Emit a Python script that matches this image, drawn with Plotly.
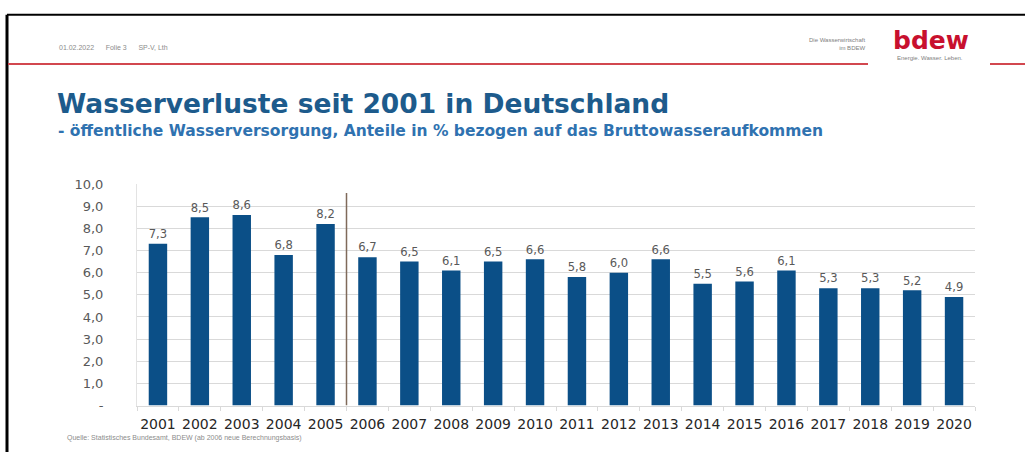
import plotly.graph_objects as go

# ---- data ----
years = [str(y) for y in range(2001, 2021)]
losses = [7.3, 8.5, 8.6, 6.8, 8.2, 6.7, 6.5, 6.1, 6.5, 6.6,
          5.8, 6.0, 6.6, 5.5, 5.6, 6.1, 5.3, 5.3, 5.2, 4.9]
y_tickvals = list(range(0, 11))
y_ticktext = ["-"] + [f"{v},0" for v in range(1, 11)]
labels = [f"{v:.1f}".replace(".", ",") for v in losses]

title = "Wasserverluste seit 2001 in Deutschland"
subtitle = "- öffentliche Wasserversorgung, Anteile in % bezogen auf das Bruttowasseraufkommen"
source = "Quelle: Statistisches Bundesamt, BDEW (ab 2006 neue Berechnungsbasis)"
header = "01.02.2022      Folie 3      SP-V, Lth"

W, H = 1025, 460
def px(x): return x / W
def py(y): return 1 - y / H

fig = go.Figure()
fig.add_trace(go.Bar(
    x=years, y=losses, text=labels, textposition="outside",
    textfont=dict(family="DejaVu Sans", size=13, color="#595959"),
    marker=dict(color="#0b4f87", line=dict(width=0)),
    width=0.44, cliponaxis=False, hoverinfo="skip",
))

fig.update_layout(
    width=W, height=H, margin=dict(l=0, r=0, t=0, b=0),
    paper_bgcolor="white", plot_bgcolor="white", showlegend=False,
    xaxis=dict(domain=[px(137), px(975)], type="category", tickangle=0,
               tickfont=dict(family="DejaVu Sans", size=14, color="#262626"),
               showgrid=False, showline=True, linecolor="#d9d9d9", linewidth=1,
               ticks="outside", tickson="boundaries", ticklen=4, tickcolor="#d9d9d9",
               ticklabelstandoff=6, fixedrange=True),
    yaxis=dict(domain=[py(412), py(183)], range=[0, 10],
               tickvals=y_tickvals, ticktext=y_ticktext,
               tickfont=dict(family="DejaVu Sans", size=13, color="#595959"),
               showgrid=True, gridcolor="#d9d9d9", gridwidth=1,
               zeroline=False, showline=True, linecolor="#e3e3e3",
               ticks="", ticklabelstandoff=30, fixedrange=True),
)

shapes = [
    # slide border (top and left)
    dict(type="line", xref="paper", yref="paper", x0=px(7), x1=1, y0=py(8), y1=py(8),
         line=dict(color="black", width=2)),
    dict(type="line", xref="paper", yref="paper", x0=px(7), x1=px(7), y0=0, y1=py(8),
         line=dict(color="black", width=3)),
    # red header line
    dict(type="line", xref="paper", yref="paper", x0=px(8), x1=px(868), y0=py(59), y1=py(59),
         line=dict(color="#d2474f", width=2)),
    dict(type="line", xref="paper", yref="paper", x0=px(990), x1=1, y0=py(59), y1=py(59),
         line=dict(color="#d2474f", width=2)),
    # separator between 2005 and 2006
    dict(type="line", xref="x", yref="y", x0=4.5, x1=4.5, y0=0, y1=9.6,
         line=dict(color="#7f6a5a", width=1.5)),
]
fig.update_layout(shapes=shapes)

ann = [
    dict(text=title, x=px(55), y=py(100), xanchor="left", yanchor="middle",
         font=dict(family="DejaVu Sans", size=26.5, color="#1d5b8c", weight="bold")),
    dict(text=subtitle, x=px(56), y=py(128), xanchor="left", yanchor="middle",
         font=dict(family="DejaVu Sans", size=15.5, color="#2f72b0", weight="bold")),
    dict(text=header, x=px(57), y=py(42), xanchor="left", yanchor="middle",
         font=dict(family="Liberation Sans", size=7, color="#8c8c8c")),
    dict(text="bdew", x=px(931), y=py(35), xanchor="center", yanchor="middle",
         font=dict(family="DejaVu Sans", size=25, color="#c8102e", weight="bold")),
    dict(text="Energie. Wasser. Leben.", x=px(930), y=py(53), xanchor="center", yanchor="middle",
         font=dict(family="Liberation Sans", size=6, color="#808080")),
    dict(text="Die Wasserwirtschaft<br>im BDEW", x=px(867), y=py(38), xanchor="right",
         yanchor="middle", align="right",
         font=dict(family="Liberation Sans", size=6, color="#808080")),
    dict(text=source, x=px(65), y=py(446), xanchor="left", yanchor="middle",
         font=dict(family="Liberation Sans", size=7, color="#8c8c8c")),
]
for a in ann:
    a.update(xref="paper", yref="paper", showarrow=False)
fig.update_layout(annotations=ann)

fig.write_html("out.html", config={"displayModeBar": False})
